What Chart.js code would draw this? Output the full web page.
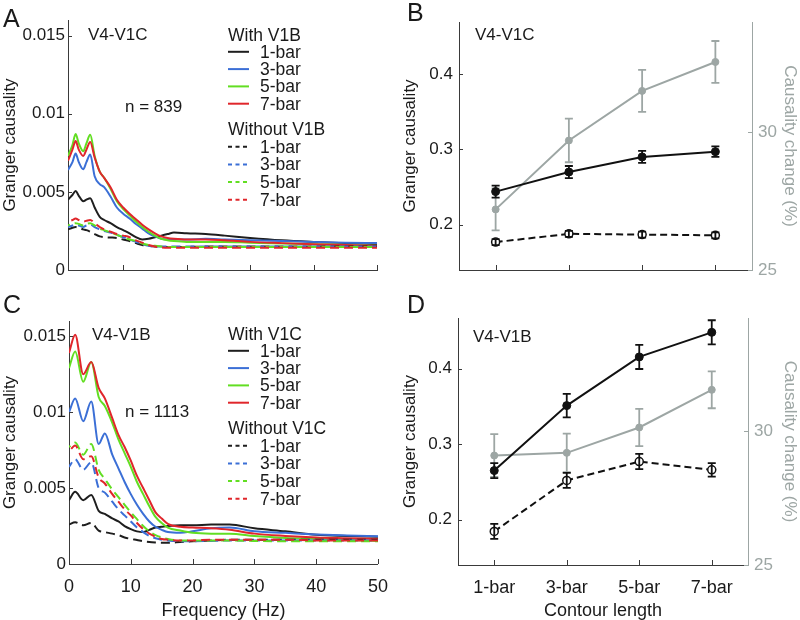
<!DOCTYPE html>
<html>
<head>
<meta charset="utf-8">
<script src="https://cdn.jsdelivr.net/npm/chart.js@4.4.1/dist/chart.umd.min.js"></script>
<style>
  body { margin: 0; background: #fff; }
  #wrap { position: relative; width: 800px; height: 620px; overflow: hidden; }
  canvas { position: absolute; }
</style>
</head>
<body>
<div id="wrap">
  <canvas id="chartA" width="400" height="290" style="left:0;top:0"></canvas>
  <canvas id="chartB" width="400" height="290" style="left:400px;top:0"></canvas>
  <canvas id="chartC" width="400" height="330" style="left:0;top:290px"></canvas>
  <canvas id="chartD" width="400" height="330" style="left:400px;top:290px"></canvas>
</div>
<script>
// values of the spectra are in units of 0.001 (Granger causality)
var freqA = [1.3, 2, 2.5, 3, 3.7, 4.2, 4.8, 5.5, 6.3, 7, 8, 9, 10, 11, 12, 13, 14, 15, 16, 17, 18, 20, 23, 26, 30, 35, 40, 45, 50];
var withA1 = [4.5, 4.8, 5.05, 4.75, 4.4, 4.5, 4.6, 4.0, 3.4, 3.2, 3.0, 2.75, 2.55, 2.35, 2.1, 1.95, 2.0, 2.1, 2.2, 2.3, 2.4, 2.35, 2.3, 2.2, 2.05, 1.9, 1.8, 1.72, 1.65];
var withA3 = [6.4, 6.9, 7.45, 6.9, 6.45, 6.9, 7.4, 6.0, 5.5, 5.3, 4.7, 4.0, 3.6, 3.3, 2.95, 2.65, 2.35, 2.15, 2.0, 1.95, 1.95, 1.95, 2.0, 1.95, 1.9, 1.85, 1.8, 1.75, 1.72];
var withA5 = [7.3, 8.0, 8.7, 8.1, 7.6, 8.1, 8.65, 7.3, 6.3, 5.9, 5.2, 4.4, 3.9, 3.5, 3.1, 2.75, 2.45, 2.2, 2.0, 1.9, 1.85, 1.8, 1.8, 1.8, 1.75, 1.7, 1.65, 1.6, 1.55];
var withA7 = [7.0, 7.7, 8.25, 7.7, 7.3, 7.7, 8.2, 7.2, 6.3, 5.9, 5.3, 4.5, 4.0, 3.6, 3.25, 2.9, 2.6, 2.35, 2.15, 2.05, 2.0, 1.95, 1.95, 1.9, 1.8, 1.72, 1.65, 1.6, 1.55];
var withoutA1 = [2.6, 2.7, 2.75, 2.7, 2.6, 2.55, 2.45, 2.3, 2.15, 2.1, 2.08, 2.05, 1.95, 1.85, 1.72, 1.6, 1.55, 1.5, 1.48, 1.48, 1.48, 1.48, 1.5, 1.5, 1.5, 1.5, 1.5, 1.5, 1.5];
var withoutA3 = [2.75, 2.85, 2.9, 2.85, 2.75, 2.85, 2.9, 2.75, 2.6, 2.5, 2.4, 2.25, 2.1, 1.95, 1.8, 1.65, 1.55, 1.5, 1.5, 1.5, 1.5, 1.5, 1.5, 1.5, 1.5, 1.5, 1.5, 1.5, 1.5];
var withoutA5 = [2.85, 2.95, 3.0, 2.95, 2.85, 2.95, 3.0, 2.85, 2.65, 2.55, 2.4, 2.25, 2.1, 1.95, 1.85, 1.7, 1.6, 1.55, 1.5, 1.48, 1.48, 1.48, 1.48, 1.48, 1.48, 1.48, 1.48, 1.48, 1.48];
var withoutA7 = [3.1, 3.2, 3.3, 3.2, 3.1, 3.15, 3.2, 3.0, 2.75, 2.6, 2.45, 2.3, 2.2, 2.1, 1.9, 1.75, 1.6, 1.5, 1.45, 1.43, 1.43, 1.43, 1.43, 1.43, 1.43, 1.43, 1.43, 1.43, 1.42];

var freqC = [0, 1, 2.3, 3.6, 4.8, 5.8, 7, 8, 9, 10, 11, 12, 13, 14, 15, 16, 18, 20, 23, 26, 30, 35, 40, 45, 50];
var withC1 = [4.2, 4.75, 4.2, 4.55, 3.5, 3.3, 3.0, 2.8, 2.5, 2.3, 2.15, 2.1, 2.25, 2.4, 2.45, 2.5, 2.55, 2.55, 2.6, 2.6, 2.35, 2.15, 1.92, 1.85, 1.8];
var withC3 = [10.0, 10.9, 9.4, 10.7, 7.9, 8.6, 7.2, 6.3, 5.4, 4.6, 3.9, 3.3, 2.8, 2.45, 2.25, 2.1, 2.05, 2.15, 2.35, 2.4, 2.15, 2.05, 1.95, 1.88, 1.82];
var withC5 = [12.9, 14.0, 12.0, 13.3, 11.0, 10.4, 9.3, 8.2, 7.3, 6.4, 5.4, 4.6, 3.8, 3.1, 2.7, 2.4, 2.2, 2.05, 2.0, 2.0, 1.85, 1.72, 1.65, 1.58, 1.52];
var withC7 = [13.9, 15.1, 12.5, 13.3, 11.6, 10.9, 9.6, 8.5, 7.7, 6.8, 5.8, 5.0, 4.2, 3.4, 3.0, 2.65, 2.45, 2.4, 2.35, 2.25, 2.0, 1.85, 1.75, 1.7, 1.65];
var withoutC1 = [2.6, 2.75, 2.55, 2.7, 2.2, 2.1, 2.0, 1.9, 1.75, 1.65, 1.58, 1.5, 1.45, 1.42, 1.4, 1.4, 1.45, 1.5, 1.55, 1.6, 1.6, 1.6, 1.6, 1.6, 1.6];
var withoutC3 = [6.4, 6.9, 6.2, 6.7, 5.0, 4.7, 4.1, 3.6, 3.2, 2.8, 2.4, 2.1, 1.85, 1.7, 1.6, 1.55, 1.5, 1.5, 1.52, 1.55, 1.55, 1.55, 1.55, 1.55, 1.55];
var withoutC5 = [7.7, 8.0, 7.2, 7.9, 6.2, 5.6, 4.9, 4.4, 3.9, 3.4, 2.95, 2.5, 2.15, 1.9, 1.75, 1.65, 1.55, 1.55, 1.55, 1.55, 1.52, 1.5, 1.5, 1.5, 1.5];
var withoutC7 = [7.4, 7.8, 6.9, 7.1, 5.7, 5.3, 4.6, 4.1, 3.6, 3.2, 2.7, 2.3, 2.0, 1.8, 1.65, 1.6, 1.55, 1.55, 1.6, 1.6, 1.6, 1.6, 1.55, 1.55, 1.55];

var contour = ['1-bar', '3-bar', '5-bar', '7-bar'];
var withB = [0.244, 0.270, 0.290, 0.297];
var withBErr = [0.008, 0.008, 0.008, 0.007];
var withoutB = [0.177, 0.188, 0.187, 0.186];
var withoutBErr = [0.004, 0.004, 0.004, 0.004];
var changeB = [27.2, 29.7, 31.5, 32.55];
var changeBErr = [0.76, 0.79, 0.76, 0.76];

var withD = [0.265, 0.351, 0.4155, 0.448];
var withDErr = [0.010, 0.0155, 0.016, 0.016];
var withoutD = [0.1845, 0.252, 0.277, 0.266];
var withoutDErr = [0.010, 0.010, 0.010, 0.009];
var changeD = [29.1, 29.2, 30.15, 31.56];
var changeDErr = [0.8, 0.72, 0.7, 0.69];

var freqTicksA = [10, 20, 30, 40, 50];
var freqTicksC = [0, 10, 20, 30, 40, 50];
var freqLabelsC = ['0', '10', '20', '30', '40', '50'];
var gcTicks = [0, 0.005, 0.01, 0.015];
var gcLabels = ['0', '0.005', '0.01', '0.015'];
var gcTicks2 = [0.2, 0.3, 0.4];
var gcLabels2 = ['0.2', '0.3', '0.4'];
var changeTicks = [25, 30];
var changeLabels = ['25', '30'];

var FAMILY = '"Liberation Sans", Arial, Helvetica, sans-serif';
var textColor = '#1a1a1a';
var axisColor = '#3a3a3a';
var grayColor = '#9da6a4';
var lineColors = ['#1e1e1e', '#3b6fd6', '#62de22', '#e0262b'];

Chart.defaults.font.family = FAMILY;
Chart.defaults.font.size = 17;
Chart.defaults.color = textColor;

function fixedTicks(values) {
  return function (scale) {
    scale.ticks = values.map(function (v) { return { value: v }; });
  };
}
function labelsFrom(labels) {
  return function (value, index) { return labels[index]; };
}

// MATLAB style ticks pointing into the plot
var innerTicks = {
  id: 'innerTicks',
  afterDraw: function (chart) {
    var ctx = chart.ctx, area = chart.chartArea;
    ctx.save();
    ctx.lineWidth = 1;
    Object.keys(chart.scales).forEach(function (key) {
      var s = chart.scales[key];
      ctx.strokeStyle = s.options.border.color;
      s.ticks.forEach(function (t, i) {
        var p = Math.round(s.getPixelForTick(i)) + 0.5;
        ctx.beginPath();
        if (s.position === 'bottom') { ctx.moveTo(p, area.bottom); ctx.lineTo(p, area.bottom - 5); }
        if (s.position === 'left') { ctx.moveTo(area.left, p); ctx.lineTo(area.left + 4, p); }
        if (s.position === 'right') { ctx.moveTo(area.right, p); ctx.lineTo(area.right - 4, p); }
        ctx.stroke();
      });
    });
    ctx.restore();
  }
};

var errorBars = {
  id: 'errorBars',
  afterDatasetDraw: function (chart, args) {
    var ds = chart.data.datasets[args.index];
    if (!ds.errors) return;
    var ys = chart.scales[ds.yAxisID];
    var ctx = chart.ctx;
    ctx.save();
    ctx.strokeStyle = ds.borderColor;
    ctx.lineWidth = 1.8;
    ctx.setLineDash([]);
    args.meta.data.forEach(function (pt, i) {
      var top = ys.getPixelForValue(ds.data[i] + ds.errors[i]);
      var bot = ys.getPixelForValue(ds.data[i] - ds.errors[i]);
      ctx.beginPath();
      ctx.moveTo(pt.x, top); ctx.lineTo(pt.x, bot);
      ctx.moveTo(pt.x - 4, top); ctx.lineTo(pt.x + 4, top);
      ctx.moveTo(pt.x - 4, bot); ctx.lineTo(pt.x + 4, bot);
      ctx.stroke();
    });
    ctx.restore();
  }
};

function textPlugin(items) {
  return {
    id: 'texts',
    afterDraw: function (chart) {
      var ctx = chart.ctx;
      ctx.save();
      ctx.textBaseline = 'alphabetic';
      ctx.textAlign = 'left';
      items.forEach(function (it) {
        ctx.font = (it.size || 17) + 'px ' + FAMILY;
        ctx.fillStyle = textColor;
        ctx.fillText(it.text, it.x, it.y);
      });
      ctx.restore();
    }
  };
}

function legendPlugin(x, y0, title1, title2) {
  return {
    id: 'specLegend',
    afterDraw: function (chart) {
      var ctx = chart.ctx;
      ctx.save();
      ctx.font = '17.5px ' + FAMILY;
      ctx.fillStyle = textColor;
      ctx.textBaseline = 'alphabetic';
      ctx.fillText(title1, x, y0 + 6);
      var y2 = y0 + 94.5;
      ctx.fillText(title2, x, y2 + 6);
      ctx.lineWidth = 2;
      contour.forEach(function (name, k) {
        var ys = y0 + 17.3 * (k + 1);
        var yd = y2 + 17.7 * (k + 1);
        ctx.strokeStyle = lineColors[k];
        ctx.setLineDash([]);
        ctx.beginPath(); ctx.moveTo(x, ys); ctx.lineTo(x + 21, ys); ctx.stroke();
        ctx.setLineDash([4, 3.5]);
        ctx.beginPath(); ctx.moveTo(x, yd); ctx.lineTo(x + 22, yd); ctx.stroke();
        ctx.fillText(name, x + 32, ys + 6);
        ctx.fillText(name, x + 32, yd + 6);
      });
      ctx.restore();
    }
  };
}

function spectrumSets(freq, solid, dashed) {
  var sets = [];
  solid.forEach(function (vals, k) {
    sets.push({
      data: freq.map(function (f, i) { return { x: f, y: vals[i] * 0.001 }; }),
      borderColor: lineColors[k], borderWidth: 2, order: 20 - k
    });
  });
  dashed.forEach(function (vals, k) {
    sets.push({
      data: freq.map(function (f, i) { return { x: f, y: vals[i] * 0.001 }; }),
      borderColor: lineColors[k], borderWidth: 2, borderDash: [9, 5], borderDashOffset: k * 3.5, order: 10 - k
    });
  });
  return sets;
}

function spectrumChart(id, freq, solid, dashed, cfg) {
  return new Chart(document.getElementById(id), {
    type: 'line',
    data: { datasets: spectrumSets(freq, solid, dashed) },
    options: {
      responsive: false,
      animation: false,
      events: [],
      layout: { padding: { top: cfg.top, right: cfg.right, left: 0, bottom: 0 } },
      elements: { point: { radius: 0 }, line: { cubicInterpolationMode: 'monotone', borderCapStyle: 'butt' } },
      plugins: { legend: { display: false }, tooltip: { enabled: false } },
      scales: {
        x: {
          type: 'linear', min: cfg.xMin, max: 50,
          grid: { display: false, drawTicks: false },
          border: { color: axisColor },
          afterBuildTicks: fixedTicks(cfg.xTicks),
          ticks: { display: cfg.xLabels, padding: 12, autoSkip: false, maxRotation: 0, font: { size: 18 }, callback: labelsFrom(freqLabelsC) },
          title: { display: cfg.xLabels, text: 'Frequency (Hz)', padding: { top: 0, bottom: -2 }, font: { size: 18 } },
          afterFit: function (s) { s.height = cfg.xHeight; }
        },
        y: {
          min: 0, max: 0.016,
          grid: { display: false, drawTicks: false },
          border: { color: axisColor },
          afterBuildTicks: fixedTicks(gcTicks),
          ticks: { padding: 3, callback: labelsFrom(gcLabels) },
          title: { display: true, text: 'Granger causality', padding: 0 },
          afterFit: function (s) { s.width = cfg.yWidth; }
        }
      }
    },
    plugins: [innerTicks, legendPlugin(228, cfg.legendY, cfg.title1, cfg.title2), textPlugin(cfg.texts)]
  });
}

function contourChart(id, withV, withErr, withoutV, withoutErr, change, changeErr, cfg) {
  return new Chart(document.getElementById(id), {
    type: 'line',
    data: {
      labels: contour,
      datasets: [
        { data: withV, errors: withErr, yAxisID: 'y', borderColor: '#111', backgroundColor: '#111',
          borderWidth: 2, pointRadius: 4, pointBorderWidth: 1 },
        { data: withoutV, errors: withoutErr, yAxisID: 'y', borderColor: '#111', backgroundColor: '#fff',
          borderWidth: 2, borderDash: [7, 4], pointRadius: 4, pointBorderWidth: 1.5 },
        { data: change, errors: changeErr, yAxisID: 'y1', borderColor: grayColor, backgroundColor: grayColor,
          borderWidth: 2, pointRadius: 3.5, pointBorderWidth: 1 }
      ]
    },
    options: {
      responsive: false,
      animation: false,
      events: [],
      layout: { padding: { top: cfg.top, right: 0, left: 0, bottom: 0 } },
      elements: { line: { tension: 0 } },
      plugins: { legend: { display: false }, tooltip: { enabled: false } },
      scales: {
        x: {
          type: 'category', offset: true,
          grid: { display: false, offset: false, drawTicks: false },
          border: { color: axisColor },
          ticks: { display: cfg.xLabels, padding: 12, font: { size: 18 } },
          title: { display: cfg.xLabels, text: 'Contour length', padding: { top: 0, bottom: -2 }, font: { size: 18 } },
          afterFit: function (s) { s.height = cfg.xHeight; }
        },
        y: {
          position: 'left', min: 0.14, max: cfg.yMax,
          grid: { display: false, drawTicks: false },
          border: { color: axisColor },
          afterBuildTicks: fixedTicks(gcTicks2),
          ticks: { padding: 6, callback: labelsFrom(gcLabels2) },
          title: { display: true, text: 'Granger causality', padding: 0 },
          afterFit: function (s) { s.width = cfg.yWidth; }
        },
        y1: {
          position: 'right', min: 25, max: cfg.y1Max,
          grid: { display: false, drawTicks: false },
          border: { color: grayColor },
          afterBuildTicks: fixedTicks(changeTicks),
          ticks: { padding: 6, color: grayColor, callback: labelsFrom(changeLabels) },
          title: { display: true, text: 'Causality change (%)', color: grayColor, padding: 0 },
          afterFit: function (s) { s.width = cfg.y1Width; }
        }
      }
    },
    plugins: [innerTicks, errorBars, textPlugin(cfg.texts)]
  });
}

spectrumChart('chartA', freqA,
  [withA1, withA3, withA5, withA7], [withoutA1, withoutA3, withoutA5, withoutA7], {
    xMin: 1.3, xTicks: freqTicksA, xLabels: false, xHeight: 20, yWidth: 68, top: 20, right: 23,
    legendY: 34.5, title1: 'With V1B', title2: 'Without V1B',
    texts: [
      { text: 'A', x: 3, y: 27, size: 25 },
      { text: 'V4-V1C', x: 88, y: 40 },
      { text: 'n = 839', x: 125, y: 112 }
    ]
  });

spectrumChart('chartC', freqC,
  [withC1, withC3, withC5, withC7], [withoutC1, withoutC3, withoutC5, withoutC7], {
    xMin: 0, xTicks: freqTicksC, xLabels: true, xHeight: 56, yWidth: 69, top: 31, right: 14,
    legendY: 43.5, title1: 'With V1C', title2: 'Without V1C',
    texts: [
      { text: 'C', x: 3, y: 23, size: 25 },
      { text: 'V4-V1B', x: 92, y: 50 },
      { text: 'n = 1113', x: 125, y: 126.5 }
    ]
  });

contourChart('chartB', withB, withBErr, withoutB, withoutBErr, changeB, changeBErr, {
  top: 22, xLabels: false, xHeight: 20, yWidth: 59, y1Width: 48, yMax: 0.469, y1Max: 34.0,
  texts: [
    { text: 'B', x: 7, y: 21, size: 25 },
    { text: 'V4-V1C', x: 75, y: 40 }
  ]
});

contourChart('chartD', withD, withDErr, withoutD, withoutDErr, changeD, changeDErr, {
  top: 28, xLabels: true, xHeight: 55, yWidth: 58, y1Width: 52, yMax: 0.467, y1Max: 34.25,
  texts: [
    { text: 'D', x: 7, y: 23, size: 25 },
    { text: 'V4-V1B', x: 73, y: 52 }
  ]
});
</script>
</body>
</html>
